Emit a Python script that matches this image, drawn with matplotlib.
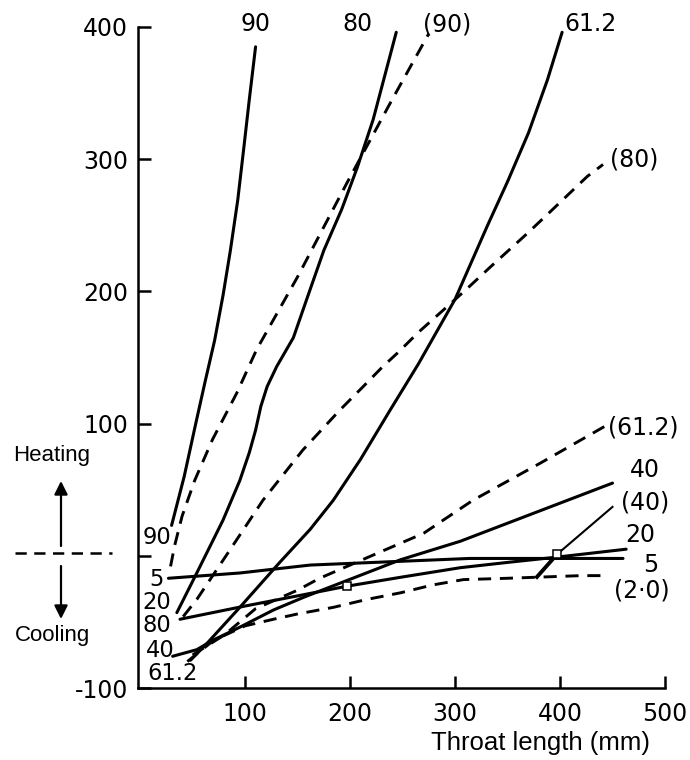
import matplotlib
matplotlib.use("Agg")
import matplotlib.pyplot as plt
from matplotlib import font_manager

# ---------------- data (throat length mm, value) ----------------
s90_x = [30, 42, 53, 62, 71, 79, 86, 93, 99, 104, 110]
s90_y = [23, 60, 100, 132, 163, 197, 231, 269, 310, 345, 385]

s80_x = [35, 54, 79, 95, 104, 110, 115, 121, 130, 146, 160, 175, 192, 207, 222, 244]
s80_y = [-43, -13, 27, 57, 78, 95, 113, 128, 143, 165, 197, 231, 262, 294, 330, 396]

s612_x = [48, 64, 95, 133, 162, 184, 210, 238, 265, 300, 331, 350, 370, 388, 402]
s612_y = [-79, -66, -39, -5, 20, 42, 73, 110, 145, 194, 250, 283, 320, 360, 396]

s40_x = [31, 54, 69, 95, 127, 157, 248, 305, 450]
s40_y = [-76, -71, -64, -54, -41, -31, -3, 11, 55]

s20_x = [38, 100, 152, 197, 250, 305, 350, 397, 463]
s20_y = [-48, -38, -30, -23, -16, -9, -5, -1, 5]

s5_x = [27, 95, 162, 314, 460]
s5_y = [-17, -13, -7, -2, -2]

d90_x = [29, 33, 40, 52, 69, 92, 111, 150, 197, 240, 275]
d90_y = [-8, 8, 30, 57, 88, 123, 156, 211, 282, 345, 395]

d80_x = [41, 54, 81, 117, 155, 190, 210, 231, 246, 265, 289, 310, 333, 369, 389, 426, 441]
d80_y = [-46, -33, -1, 42, 80, 110, 126, 143, 154, 169, 186, 201, 218, 244, 259, 287, 296]

d612_x = [50, 80, 110, 150, 171, 232, 270, 317, 381, 445]
d612_y = [-75, -60, -40, -26, -17, 4, 17, 42, 70, 99]

d20_x = [45, 70, 100, 127, 150, 184, 216, 248, 279, 308, 350, 420, 445]
d20_y = [-80, -64, -53, -48, -44, -39, -33, -28, -22, -18, -17, -15, -15]

p40_x = [397, 450]
p40_y = [1, 37]

seg_x = [378, 397]
seg_y = [-16, 1]

mark_x = [197, 397]
mark_y = [-23, 1]

x_ticks = [100, 200, 300, 400, 500]
y_ticks = [-100, 0, 100, 200, 300, 400]
y_ticklabels = ["-100", "", "100", "200", "300", "400"]

# end labels: (text, x, y)
end_labels = [
    ("90", 110, 402), ("80", 207, 402), ("(90)", 292, 402), ("61.2", 429, 402),
    ("(80)", 471, 300), ("(61.2)", 479, 97), ("40", 481, 65), ("(40)", 481, 40),
    ("20", 476, 16), ("5", 486, -7), ("(2·0)", 478, -26),
]
start_labels = [
    ("90", 16, 14), ("5", 16, -18), ("20", 16, -35), ("80", 16, -53),
    ("40", 19, -72), ("61.2", 31, -89),
]

# ---------------- fonts ----------------
arial_like = None
for f in font_manager.fontManager.ttflist:
    if f.name == "Liberation Sans" and f.style == "normal" and f.weight in (400, "normal", "regular") \
            and "Narrow" not in f.fname:
        arial_like = f.fname
        break
if arial_like:
    lab_fp = lambda size: font_manager.FontProperties(fname=arial_like, size=size)
else:
    lab_fp = lambda size: font_manager.FontProperties(family="DejaVu Sans", size=size)

# ---------------- figure ----------------
W, H = 690, 760
fig = plt.figure(figsize=(W / 100, H / 100), dpi=100)
ax = fig.add_axes([138 / W, 1 - 688 / H, (665 - 138) / W, (688 - 27) / H])

solid = dict(color="black", lw=2.2, solid_capstyle="round", solid_joinstyle="round")
dashed = dict(color="black", lw=2.1, linestyle=(0, (4.5, 3)))

for xs, ys in [(s90_x, s90_y), (s80_x, s80_y), (s612_x, s612_y),
               (s40_x, s40_y), (s20_x, s20_y), (s5_x, s5_y)]:
    ax.plot(xs, ys, **solid)
for xs, ys in [(d90_x, d90_y), (d80_x, d80_y), (d612_x, d612_y), (d20_x, d20_y)]:
    ax.plot(xs, ys, **dashed)
ax.plot(p40_x, p40_y, color="black", lw=1.5)
ax.plot(seg_x, seg_y, color="black", lw=2.8)
ax.plot(mark_x, mark_y, linestyle="none", marker="s", ms=5.5, mfc="white",
        mec="black", mew=1.1)

for t, x, y in end_labels:
    ax.text(x, y, t, ha="center", va="center", clip_on=False,
            family="DejaVu Sans", fontsize=17)
for t, x, y in start_labels:
    ax.text(x, y, t, ha="center", va="center", clip_on=False,
            family="DejaVu Sans", fontsize=16.3)

ax.set_xlim(-2, 500)
ax.set_ylim(-100, 400)
ax.set_xticks(x_ticks)
ax.set_xticklabels([str(v) for v in x_ticks])
ax.set_yticks(y_ticks)
ax.set_yticklabels(y_ticklabels)
for side in ["top", "right"]:
    ax.spines[side].set_visible(False)
for side in ["left", "bottom"]:
    ax.spines[side].set_linewidth(1.8)
ax.tick_params(axis="both", direction="in", length=9, width=1.8,
               labelsize=17)
ax.tick_params(axis="x", pad=10)
ax.tick_params(axis="y", pad=7)
for lab in ax.get_xticklabels() + ax.get_yticklabels():
    lab.set_family("DejaVu Sans")

# x-axis label
fig.text(650 / W, 1 - 743 / H, "Throat length (mm)", ha="right", va="center",
         fontproperties=lab_fp(18.5))

# Heating / Cooling indicator on the left
fig.text(52 / W, 1 - 456 / H, "Heating", ha="center", va="center",
         fontproperties=lab_fp(16))
fig.text(52 / W, 1 - 635 / H, "Cooling", ha="center", va="center",
         fontproperties=lab_fp(16))
fig.add_artist(plt.Line2D([15 / W, 112 / W], [1 - 553 / H, 1 - 553 / H],
                          transform=fig.transFigure, color="black", lw=1.8,
                          linestyle=(0, (4.5, 3))))
arrow_kw = dict(arrowstyle="-|>", lw=1.6, color="black", mutation_scale=20,
                shrinkA=0, shrinkB=0)
ax.annotate("", xy=(61 / W, 1 - 481 / H), xytext=(61 / W, 1 - 546 / H),
            xycoords="figure fraction", textcoords="figure fraction",
            arrowprops=arrow_kw, annotation_clip=False)
ax.annotate("", xy=(61 / W, 1 - 619 / H), xytext=(61 / W, 1 - 566 / H),
            xycoords="figure fraction", textcoords="figure fraction",
            arrowprops=arrow_kw, annotation_clip=False)

fig.savefig("out.png", dpi=100, facecolor="white")
